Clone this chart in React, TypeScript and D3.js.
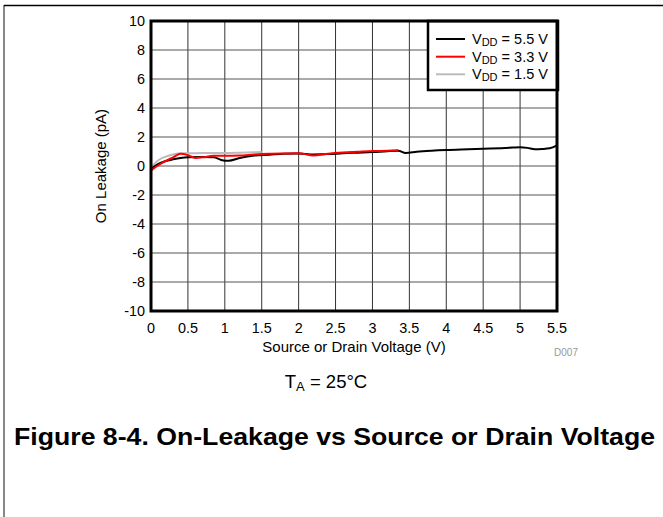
import React from "react";
import * as d3 from "d3";

const xTicks = [0, 0.5, 1, 1.5, 2, 2.5, 3, 3.5, 4, 4.5, 5, 5.5];
const yTicks = [-10, -8, -6, -4, -2, 0, 2, 4, 6, 8, 10];

const v55X = [0, 0.1, 0.2, 0.3, 0.4, 0.5, 0.7, 0.85, 0.95, 1.05, 1.2, 1.4, 1.6, 1.8, 2.0, 2.2, 2.4, 2.6, 2.8, 3.0, 3.2, 3.35, 3.45, 3.6, 3.8, 4.0, 4.3, 4.6, 4.9, 5.0, 5.1, 5.2, 5.3, 5.4, 5.5];
const v55Y = [-0.2, 0.15, 0.35, 0.46, 0.55, 0.6, 0.62, 0.6, 0.42, 0.36, 0.55, 0.72, 0.78, 0.85, 0.87, 0.8, 0.82, 0.88, 0.92, 0.96, 1.02, 1.05, 0.9, 0.98, 1.05, 1.1, 1.15, 1.2, 1.27, 1.3, 1.25, 1.15, 1.17, 1.22, 1.43];

const v33X = [0, 0.1, 0.2, 0.3, 0.4, 0.5, 0.6, 0.7, 0.85, 1.0, 1.2, 1.4, 1.6, 1.8, 2.0, 2.2, 2.4, 2.6, 2.8, 3.0, 3.2, 3.35];
const v33Y = [-0.3, 0.05, 0.35, 0.6, 0.85, 0.75, 0.55, 0.6, 0.7, 0.7, 0.72, 0.8, 0.85, 0.87, 0.88, 0.72, 0.85, 0.93, 0.98, 1.03, 1.05, 1.08];

const v15X = [0, 0.1, 0.2, 0.3, 0.4, 0.6, 0.8, 1.0, 1.2, 1.4, 1.5];
const v15Y = [-0.1, 0.4, 0.65, 0.8, 0.88, 0.88, 0.9, 0.9, 0.92, 0.95, 0.97];

const seriesLabels = ["5.5 V", "3.3 V", "1.5 V"];
const seriesColors = ["#000000", "#ff0000", "#bbbbbb"];

const FONT = "'Liberation Sans', Arial, sans-serif";

export default function App() {
  const L = 151, R = 557, T = 21, B = 311;
  const x = d3.scaleLinear().domain([0, 5.5]).range([L, R]);
  const y = d3.scaleLinear().domain([-10, 10]).range([B, T]);
  const mk = (xs: number[], ys: number[]) => xs.map((v, i) => [v, ys[i]] as [number, number]);
  const lineGen = d3.line<[number, number]>().x((d) => x(d[0])).y((d) => y(d[1])).curve(d3.curveMonotoneX);
  const series = [
    { data: mk(v15X, v15Y), color: seriesColors[2] },
    { data: mk(v55X, v55Y), color: seriesColors[0] },
    { data: mk(v33X, v33Y), color: seriesColors[1] },
  ];

  const legX = 428, legY = 21, legW = 130, legH = 69;
  const rows = [39, 56.7, 74.3];

  return (
    <svg
      width={663}
      height={517}
      style={{ position: "absolute", left: 0, top: 0, background: "#fff" }}
      fontFamily={FONT}
    >
      <rect x={0} y={0} width={663} height={517} fill="#fff" />
      <line x1={4} x2={4} y1={5} y2={517} stroke="#888" strokeWidth={2} />
      <line x1={4} x2={663} y1={5.5} y2={5.5} stroke="#000" strokeWidth={1.5} />

      {xTicks.map((t) => (
        <line key={"gx" + t} x1={x(t)} x2={x(t)} y1={T} y2={B} stroke="#333" strokeWidth={1} />
      ))}
      {yTicks.map((t) => (
        <line key={"gy" + t} x1={L} x2={R} y1={y(t)} y2={y(t)} stroke="#555" strokeWidth={1} />
      ))}

      <rect x={legX} y={legY} width={legW} height={legH} fill="#fff" stroke="#000" strokeWidth={2.5} />
      {seriesLabels.map((s, i) => (
        <g key={s}>
          <line x1={436} x2={465} y1={rows[i]} y2={rows[i]} stroke={seriesColors[i]} strokeWidth={2} />
          <text x={472} y={rows[i] + 5} fontSize={14.5} fill="#000">
            V<tspan fontSize={11} dy={2}>DD</tspan>
            <tspan dy={-2}>{" = " + s}</tspan>
          </text>
        </g>
      ))}

      {series.map((s, i) => (
        <path key={i} d={lineGen(s.data) || ""} fill="none" stroke={s.color} strokeWidth={2} />
      ))}

      <rect x={L} y={T} width={R - L} height={B - T} fill="none" stroke="#000" strokeWidth={3} />

      {yTicks.map((t) => (
        <text key={"ly" + t} x={145} y={y(t) + 5} textAnchor="end" fontSize={14.4} fill="#000">
          {t}
        </text>
      ))}
      {xTicks.map((t) => (
        <text key={"lx" + t} x={x(t)} y={333} textAnchor="middle" fontSize={14.4} fill="#000">
          {t}
        </text>
      ))}

      <text x={354} y={352} textAnchor="middle" fontSize={15} fill="#000">
        Source or Drain Voltage (V)
      </text>
      <text x={566} y={356} textAnchor="middle" fontSize={10} fill="#999">
        D007
      </text>
      <text
        transform={`translate(106, ${y(0)}) rotate(-90)`}
        textAnchor="middle"
        fontSize={15}
        fill="#000"
      >
        On Leakage (pA)
      </text>

      <text x={326} y={388} textAnchor="middle" fontSize={18.5} fill="#000">
        T<tspan fontSize={13} dy={3}>A</tspan>
        <tspan dy={-3}> = 25°C</tspan>
      </text>

      <text x={14} y={445} fontSize={24} fontWeight="bold" fill="#000" textLength={641} lengthAdjust="spacingAndGlyphs">
        Figure 8-4. On-Leakage vs Source or Drain Voltage
      </text>
    </svg>
  );
}
